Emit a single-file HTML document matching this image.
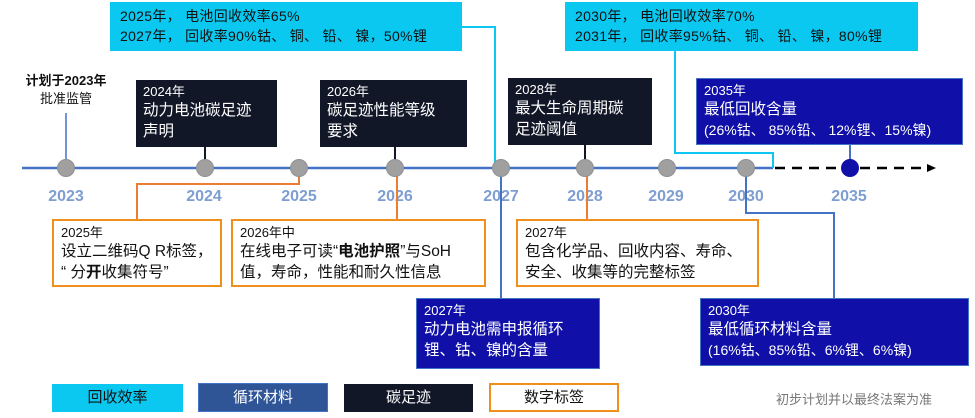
<!DOCTYPE html>
<html><head><meta charset="utf-8"><style>
body{margin:0;width:975px;height:418px;background:#fff;position:relative;overflow:hidden;font-family:"Liberation Sans","Noto Sans CJK SC",sans-serif}
.a{position:absolute;box-sizing:border-box}
.cy{background:#0ac8f0;color:#111;font-size:14px;line-height:20px;padding:4px 0 0 10px;letter-spacing:0.3px}
.dk{background:#121728;color:#fff;padding:4px 0 0 7px}
.bl{background:#1010a8;color:#fff;padding:4px 0 0 7px;border:1px solid #4472c4}
.or{border:2px solid #f0901c;background:#fff;color:#111;padding:4px 0 0 7px}
.y{font-size:13px;line-height:16px}
.t{font-size:15.5px;line-height:21px}
.yr{position:absolute;top:188px;font:bold 16px "Liberation Sans",sans-serif;color:#7e9ed2;transform:translateX(-50%)}
.n{position:absolute;width:18px;height:18px;border-radius:50%;background:#a0a0a0;top:159px;border:1px solid #909090;box-sizing:border-box}
.l{position:absolute}
</style></head><body>
<div class="yr" style="left:66px">2023</div><div class="yr" style="left:204px">2024</div><div class="yr" style="left:299px">2025</div><div class="yr" style="left:395px">2026</div><div class="yr" style="left:501px">2027</div><div class="yr" style="left:585px">2028</div><div class="yr" style="left:666px">2029</div><div class="yr" style="left:746px">2030</div><div class="yr" style="left:849px">2035</div>
<svg class="l" style="left:0;top:0" width="975" height="418">
<line x1="22" y1="168" x2="773" y2="168" stroke="#4472c4" stroke-width="2.5"/>
<line x1="775" y1="168" x2="928" y2="168" stroke="#000" stroke-width="2.5" stroke-dasharray="10,7"/>
<polygon points="927,164 936,168 927,172" fill="#000"/>
<polyline points="462,27 495,27 495,168" fill="none" stroke="#0ac8f0" stroke-width="2"/>
<polyline points="675,51 675,153 773,153 773,168" fill="none" stroke="#0ac8f0" stroke-width="2"/>
<line x1="66" y1="113" x2="66" y2="162" stroke="#4472c4" stroke-width="1.5"/>
<line x1="205" y1="147" x2="205" y2="162" stroke="#121728" stroke-width="2"/>
<line x1="395" y1="147" x2="395" y2="162" stroke="#121728" stroke-width="2"/>
<line x1="585" y1="145" x2="585" y2="162" stroke="#121728" stroke-width="2"/>
<line x1="850" y1="145" x2="850" y2="162" stroke="#4472c4" stroke-width="2"/>
<polyline points="299,172 299,184 137,184 137,219" fill="none" stroke="#ed7d31" stroke-width="2"/>
<line x1="397" y1="172" x2="397" y2="219" stroke="#ed7d31" stroke-width="2"/>
<line x1="587" y1="172" x2="587" y2="219" stroke="#ed7d31" stroke-width="2"/>
<line x1="501" y1="172" x2="501" y2="298" stroke="#4472c4" stroke-width="2"/>
<polyline points="746,172 746,213 834,213 834,298" fill="none" stroke="#4472c4" stroke-width="2"/>
</svg>
<div class="a cy" style="left:110px;top:2px;width:352px;height:49px">2025年，  电池回收效率65%<br>2027年，  回收率90%钴、 铜、 铅、 镍，50%锂</div>
<div class="a cy" style="left:565px;top:2px;width:353px;height:49px">2030年，  电池回收效率70%<br>2031年，  回收率95%钴、 铜、 铅、 镍，80%锂</div>
<div class="a" style="left:18px;top:72px;width:96px;text-align:center;font-size:13px;line-height:18px;color:#111"><b>计划于2023年</b><br>批准监管</div>
<div class="a dk" style="left:136px;top:80px;width:141px;height:67px"><div class="y">2024年</div><div class="t">动力电池碳足迹<br>声明</div></div>
<div class="a dk" style="left:320px;top:80px;width:147px;height:67px"><div class="y">2026年</div><div class="t">碳足迹性能等级<br>要求</div></div>
<div class="a dk" style="left:508px;top:78px;width:144px;height:67px"><div class="y">2028年</div><div class="t">最大生命周期碳<br>足迹阈值</div></div>
<div class="a bl" style="left:696px;top:78px;width:267px;height:67px"><div class="y">2035年</div><div class="t">最低回收含量</div><div class="t" style="font-size:14px">(26%钴、 85%铅、 12%锂、15%镍)</div></div>
<div class="n" style="left:57px"></div><div class="n" style="left:196px"></div><div class="n" style="left:290px"></div><div class="n" style="left:386px"></div><div class="n" style="left:492px"></div><div class="n" style="left:576px"></div><div class="n" style="left:658px"></div><div class="n" style="left:737px"></div>
<div class="n" style="left:841px;background:#1010a8;border-color:#1010a8"></div>
<div class="a or" style="left:52px;top:219px;width:170px;height:68px"><div class="y">2025年</div><div class="t">设立二维码Q R标签，<br>“ 分<b>开</b>收集符号”</div></div>
<div class="a or" style="left:231px;top:219px;width:255px;height:68px"><div class="y">2026年中</div><div class="t">在线电子可读“<b>电池护照</b>”与SoH<br>值，寿命，性能和耐久性信息</div></div>
<div class="a or" style="left:516px;top:219px;width:243px;height:68px"><div class="y">2027年</div><div class="t">包含化学品、回收内容、寿命、<br>安全、收集等的完整标签</div></div>
<div class="a bl" style="left:416px;top:298px;width:184px;height:71px"><div class="y">2027年</div><div class="t">动力电池需申报循环<br>锂、钴、镍的含量</div></div>
<div class="a bl" style="left:700px;top:298px;width:269px;height:68px"><div class="y">2030年</div><div class="t">最低循环材料含量</div><div class="t" style="font-size:14px">(16%钴、85%铅、6%锂、6%镍)</div></div>
<div class="a" style="left:52px;top:384px;width:131px;height:28px;background:#0ac8f0;color:#111;text-align:center;font-size:15px;line-height:28px">回收效率</div>
<div class="a" style="left:198px;top:383px;width:130px;height:29px;background:#2f5597;border:1px solid #4472c4;color:#fff;text-align:center;font-size:15px;line-height:27px">循环材料</div>
<div class="a" style="left:344px;top:384px;width:129px;height:28px;background:#121728;color:#fff;text-align:center;font-size:15px;line-height:28px">碳足迹</div>
<div class="a" style="left:489px;top:383px;width:130px;height:29px;border:2px solid #f0901c;color:#111;text-align:center;font-size:15px;line-height:25px">数字标签</div>
<div class="a" style="left:776px;top:389px;font-size:13px;color:#777">初步计划并以最终法案为准</div>
</body></html>
